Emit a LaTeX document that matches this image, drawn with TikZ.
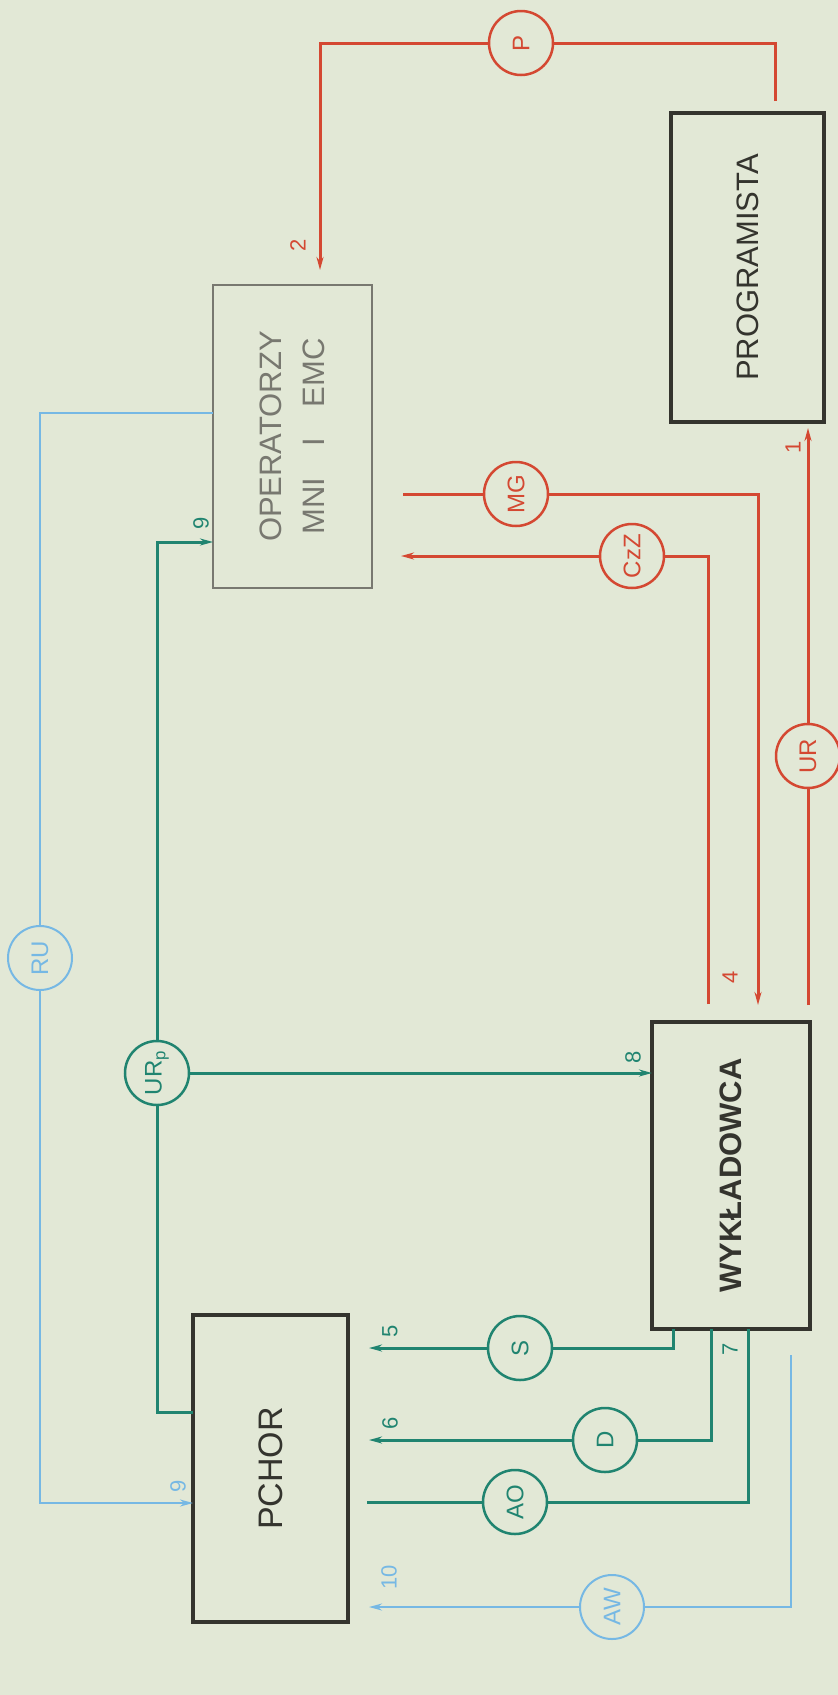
\documentclass[tikz,border=0pt]{standalone}
\usepackage{fontspec}
\setmainfont{Liberation Sans}
\usetikzlibrary{arrows.meta}
\definecolor{paper}{RGB}{226,232,214}
\definecolor{inkred}{RGB}{212,72,50}
\definecolor{inkgreen}{RGB}{32,132,112}
\definecolor{inkblue}{RGB}{118,184,228}
\definecolor{inkgray}{RGB}{120,120,112}
\definecolor{inkdark}{RGB}{52,52,46}
\tikzset{
  box/.style={draw=inkdark, line width=3.5pt, rotate=90, align=center, inner sep=0pt,
              text=inkdark, font=\fontsize{31}{43}\selectfont},
  graybox/.style={box, draw=inkgray, line width=2.5pt, text=inkgray},
  circ/.style={circle, draw, line width=2.5pt, fill=paper, minimum size=64pt,
               inner sep=0pt, rotate=90, font=\fontsize{24}{26}\selectfont},
  redc/.style={circ, draw=inkred, text=inkred},
  greenc/.style={circ, draw=inkgreen, text=inkgreen},
  bluec/.style={circ, draw=inkblue, text=inkblue, line width=2pt},
  rline/.style={draw=inkred, line width=3pt},
  gline/.style={draw=inkgreen, line width=3pt},
  bline/.style={draw=inkblue, line width=2pt},
  arr/.style={-{Stealth[length=13pt,width=7pt]}},
  num/.style={rotate=90, inner sep=0pt, font=\fontsize{22}{24}\selectfont}
}
\begin{document}
\begin{tikzpicture}[x=1pt,y=-1pt]
\useasboundingbox (0,0) rectangle (838,1695);
\fill[paper] (0,0) rectangle (838,1695);

% boxes
\node[box, minimum width=309pt, minimum height=153pt] (prog) at (747.5,267.5) {PROGRAMISTA};
\node[graybox, minimum width=303pt, minimum height=159pt] (oper) at (292.5,436.5) {OPERATORZY\\MNI\quad I\quad EMC};
\node[box, line width=4pt, minimum width=307pt, minimum height=158pt,
      font=\fontsize{31}{43}\selectfont\bfseries] (wykl) at (731,1175.5) {WYKŁADOWCA};
\node[box, minimum width=307pt, minimum height=155pt, font=\fontsize{34}{40}\selectfont] (pchor) at (270.5,1468.5) {PCHOR};

% circles
\node[redc] (P) at (521,43) {P};
\node[redc] (MG) at (516,494) {MG};
\node[redc] (CzZ) at (632,556) {CzZ};
\node[redc] (UR) at (808,756) {UR};
\node[greenc] (URp) at (157,1073) {UR\textsubscript{p}};
\node[greenc] (S) at (520,1348) {S};
\node[greenc] (D) at (605,1440) {D};
\node[greenc] (AO) at (515,1502) {AO};
\node[bluec] (RU) at (40,958) {RU};
\node[bluec] (AW) at (612,1607) {AW};

% red flows
\coordinate (pstart) at (775,101);
\coordinate (pend) at (320,270);
\draw[rline] (pstart) |- (P);
\draw[rline, arr] (P) -| (pend);
\node[num, text=inkred] (n2) at (298,245) {2};

\coordinate (mgstart) at (403,494);
\coordinate (mgend) at (758,1005);
\draw[rline] (mgstart) -- (MG);
\draw[rline, arr] (MG) -| (mgend);
\node[num, text=inkred] (n4) at (730,977) {4};

\coordinate (czstart) at (708,1004);
\coordinate (czend) at (401,556);
\draw[rline] (czstart) |- (CzZ);
\draw[rline, arr] (CzZ) -- (czend);

\coordinate (urstart) at (808,1005);
\coordinate (urend) at (808,428);
\draw[rline, arr] (urstart) -- (UR) -- (urend);
\node[num, text=inkred] (n1) at (793,447) {1};

% green flows
\coordinate (oper9) at (213,542);
\coordinate (pchorg) at (193,1412);
\coordinate (wykl8) at (652,1073);
\draw[gline, arr] (URp) |- (oper9);
\draw[gline] (URp) |- (pchorg);
\draw[gline, arr] (URp) -- (wykl8);
\node[num, text=inkgreen] (n9a) at (201,523) {9};
\node[num, text=inkgreen] (n8) at (633,1057) {8};

\coordinate (s0) at (673,1329);
\coordinate (s1) at (369,1348);
\draw[gline] (s0) |- (S);
\draw[gline, arr] (S) -- (s1);
\node[num, text=inkgreen] (n5) at (390,1331) {5};

\coordinate (d0) at (711,1329);
\coordinate (d1) at (369,1440);
\draw[gline] (d0) |- (D);
\draw[gline, arr] (D) -- (d1);
\node[num, text=inkgreen] (n6) at (390,1423) {6};

\coordinate (ao0) at (748,1329);
\coordinate (ao1) at (367,1502);
\draw[gline] (ao0) |- (AO);
\draw[gline] (AO) -- (ao1);
\node[num, text=inkgreen] (n7) at (730,1349) {7};

% blue flows
\coordinate (ru0) at (213,413);
\coordinate (ru1) at (193,1503);
\draw[bline] (ru0) -| (RU);
\draw[bline, arr] (RU) |- (ru1);
\node[num, text=inkblue] (n9b) at (178,1486) {9};

\coordinate (aw0) at (791,1355);
\coordinate (aw1) at (369,1607);
\draw[bline] (aw0) |- (AW);
\draw[bline, arr] (AW) -- (aw1);
\node[num, text=inkblue] (n10) at (389,1577) {10};
\end{tikzpicture}
\end{document}
